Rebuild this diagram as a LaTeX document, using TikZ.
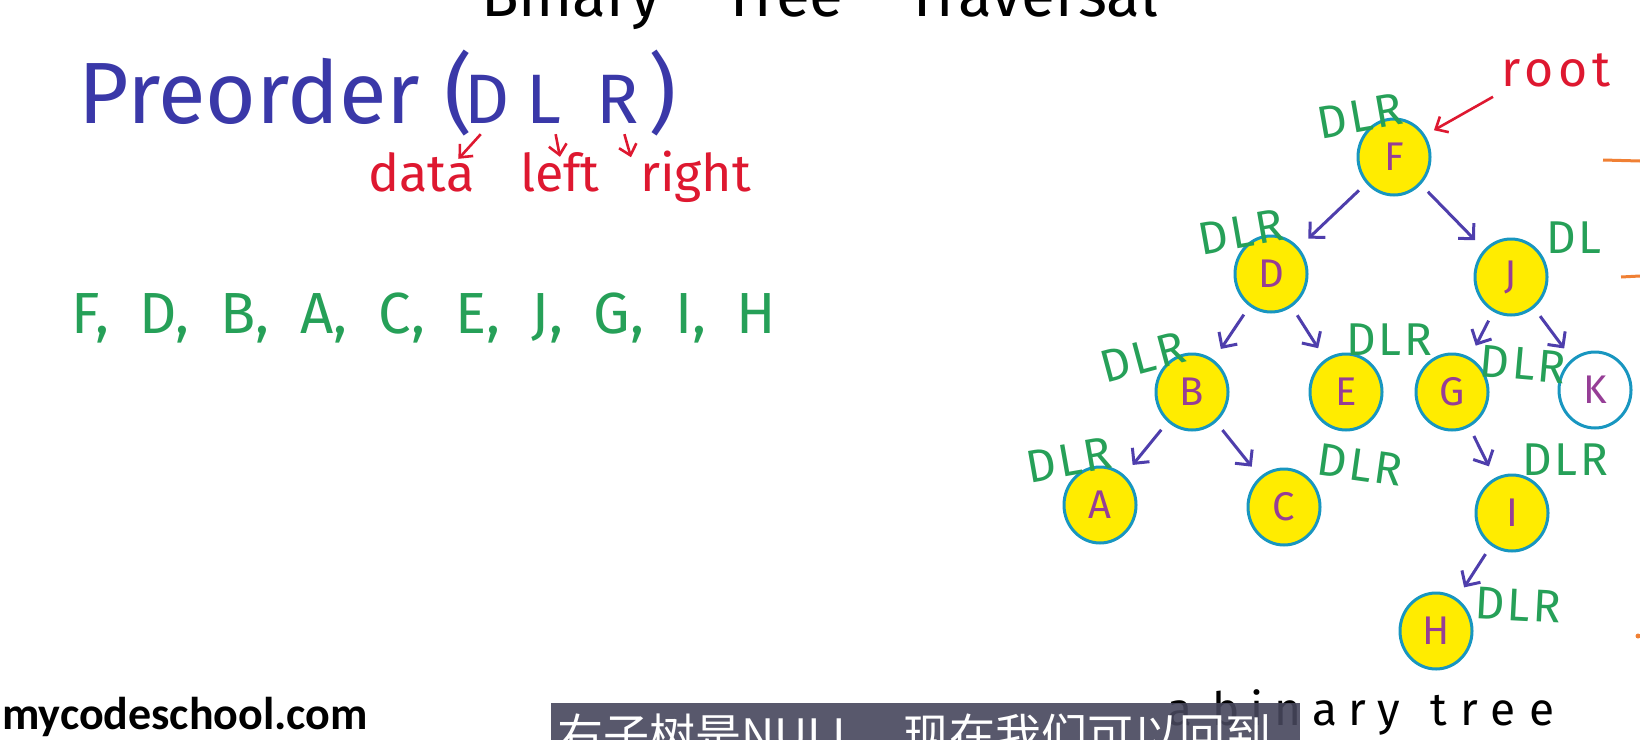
\documentclass[tikz,border=0pt]{standalone}
\usepackage{fontspec}
\setmainfont{Fira Sans}
\newfontfamily\listfont{Fira Sans}[WordSpace=2.0]
\newfontfamily\dlrfont{Fira Sans}[LetterSpace=6]
\newfontfamily\wideFont{Fira Sans}[LetterSpace=10]
\newfontfamily\capFont{Fira Sans}[LetterSpace=24]
\newfontfamily\logofont{Carlito}
\newfontfamily\cjk{Noto Sans CJK SC}
\usetikzlibrary{arrows.meta,positioning,shapes.geometric}
\definecolor{preblue}{RGB}{58,56,168}
\definecolor{notered}{RGB}{222,24,48}
\definecolor{dlrgreen}{RGB}{38,160,88}
\definecolor{arrowblue}{RGB}{78,62,172}
\definecolor{nodeyellow}{RGB}{255,236,0}
\definecolor{ringteal}{RGB}{24,150,192}
\definecolor{letterpurple}{RGB}{150,62,150}
\definecolor{markorange}{RGB}{240,128,52}
\definecolor{subbg}{RGB}{70,70,92}

\begin{document}
\begin{tikzpicture}[x=1pt, y=-1pt,
tnode/.style={ellipse, draw=ringteal, line width=3pt, fill=nodeyellow, minimum width=72pt, minimum height=76pt, inner sep=0pt, text=letterpurple, font=\fontsize{40}{40}\selectfont},
dlr/.style={text=dlrgreen, inner sep=0pt, font=\dlrfont\fontsize{46}{46}\selectfont},
note/.style={text=notered, inner sep=0pt, anchor=base west, font=\fontsize{52}{52}\selectfont},
big/.style={text=preblue, inner sep=0pt, font=\fontsize{87}{87}\selectfont},
letter/.style={text=preblue, inner sep=0pt, anchor=base west, font=\fontsize{70}{70}\selectfont},
tarrow/.style={-{Straight Barb[length=11pt,width=22pt]}, line width=3pt, draw=arrowblue, shorten <=10pt, shorten >=13pt},
redarrow/.style={-{Straight Barb[length=10pt,width=18pt]}, line width=2.6pt, draw=notered}
]
\useasboundingbox (0,0) rectangle (1640,739);

\node[inner sep=0pt, anchor=base west, font=\fontsize{62}{62}\selectfont] (title) at (481,16) {Binary\hspace{63pt}Tree\hspace{63pt}Traversal};

\node[big, anchor=base west] (pre) at (78,123) {Preorder};
\node[big, base right=24pt of pre] (lp) {(};
\node[letter] (tD) at (464,123) {D};
\node[letter] (tL) at (526,123) {L};
\node[letter] (tR) at (596,123) {R};
\node[big, anchor=base west] (rp) at (648,123) {)};

\node[note] (wData) at (368,191) {data};
\node[note] (wLeft) at (520,191) {left};
\node[note] (wRight) at (640,191) {right};
\draw[redarrow] ([xshift=-6pt,yshift=-11pt]tD.south) -- ([xshift=-16pt,yshift=-7pt]wData.north east);
\draw[redarrow] ([xshift=12pt,yshift=-11pt]tL.south) -- ([yshift=-5pt]wLeft.north);
\draw[redarrow] ([xshift=7pt,yshift=-11pt]tR.south) -- ([xshift=-9pt,yshift=-7pt]wRight.north west);

\node[text=dlrgreen, inner sep=0pt, anchor=base west, font=\listfont\fontsize{58}{58}\selectfont] (order) at (71,333) {F, D, B, A, C, E, J, G, I, H};

\node[tnode] (F) at (1394,157) {F};
\node[tnode] (D) at (1271,274) {D};
\node[tnode] (J) at (1511,277) {J};
\node[tnode] (B) at (1192,392) {B};
\node[tnode] (E) at (1346,392) {E};
\node[tnode] (G) at (1452,392) {G};
\node[tnode, fill=white] (K) at (1595,390) {K};
\node[tnode] (A) at (1100,505) {A};
\node[tnode] (C) at (1284,507) {C};
\node[tnode] (I) at (1512,513) {I};
\node[tnode] (H) at (1436,631) {H};

\draw[tarrow] (F) -- (D);
\draw[tarrow] (F) -- (J);
\draw[tarrow] (D) -- (B);
\draw[tarrow] (D) -- (E);
\draw[tarrow] (J) -- (G);
\draw[tarrow] (J) -- (K);
\draw[tarrow] (B) -- (A);
\draw[tarrow] (B) -- (C);
\draw[tarrow] (G) -- (I);
\draw[tarrow] (I) -- (H);

\node[dlr, rotate=10] (dF) at (1360,116) {DLR};
\node[dlr, rotate=10] (dD) at (1241,232) {DLR};
\node[dlr] (dJ) at (1574,238) {DL};
\node[dlr] (dE) at (1389,340) {DLR};
\node[dlr, rotate=15] (dB) at (1143,357) {DLR};
\node[dlr, rotate=-5] (dG) at (1523,364) {DLR};
\node[dlr, rotate=10] (dA) at (1069,460) {DLR};
\node[dlr, rotate=-8] (dC) at (1360,465) {DLR};
\node[dlr] (dI) at (1565,460) {DLR};
\node[dlr, rotate=-3] (dH) at (1518,605) {DLR};

\node[note, font=\wideFont\fontsize{50}{50}\selectfont] (root) at (1501,86) {root};
\draw[redarrow, shorten >=10pt] ([xshift=-8pt,yshift=-10pt]root.south west) -- (F.35);

\draw[markorange, line width=3pt] (1603,160) -- (1640,161);
\draw[markorange, line width=3pt] (1621,277) -- (1640,276);
\fill[markorange] (1638,636) circle (2.5);

\node[inner sep=0pt, anchor=base west, font=\logofont\bfseries\fontsize{46}{46}\selectfont] (logo) at (2,729) {mycodeschool.com};
\node[inner sep=0pt, anchor=base west, font=\capFont\fontsize{46}{46}\selectfont] (caption) at (1167,725) {a\hspace{20pt}binary\hspace{30pt}{\addfontfeature{LetterSpace=30}tree}};

\node[fill=subbg, fill opacity=0.9, text opacity=1, text=white, anchor=north west, minimum width=749pt, minimum height=64pt, inner xsep=6pt, inner ysep=0pt, text width=737pt, align=left, font=\cjk\fontsize{46}{46}\selectfont] (sub) at (551,703) {右子树是NULL，现在我们可以回到};
\end{tikzpicture}
\end{document}
